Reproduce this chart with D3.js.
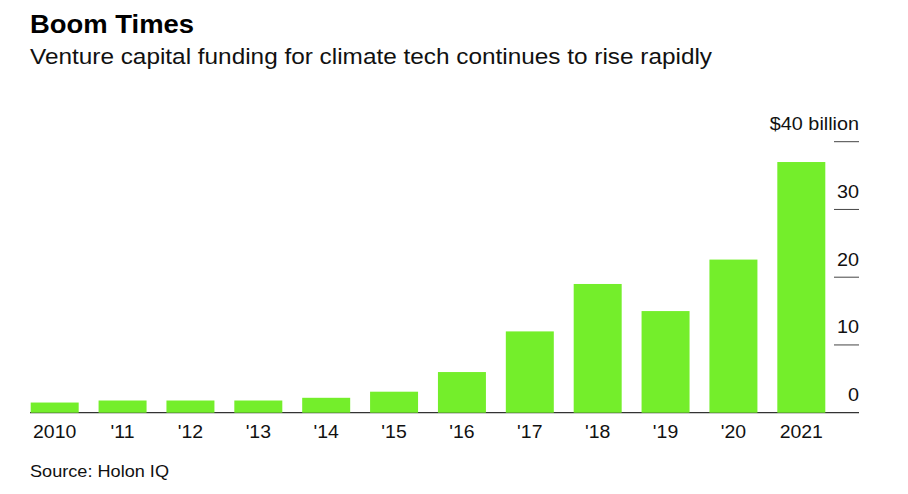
<!DOCTYPE html>
<html><head><meta charset="utf-8">
<script src="https://cdn.jsdelivr.net/npm/d3@7"></script>
<style>
html,body{margin:0;padding:0;background:#fff;}
svg{display:block;font-family:"Liberation Sans",Arial,Helvetica,sans-serif;}
</style></head>
<body>
<svg id="chart" width="908" height="494"></svg>
<script>
const years = ["2010","'11","'12","'13","'14","'15","'16","'17","'18","'19","'20","2021"];
const funding = [1.5, 1.8, 1.8, 1.8, 2.2, 3.1, 6.0, 12.0, 19.0, 15.0, 22.6, 37.0];
const yTicks = [0, 10, 20, 30, 40];
const yTickLabels = ["0", "10", "20", "30", "$40 billion"];
const title = "Boom Times";
const subtitle = "Venture capital funding for climate tech continues to rise rapidly";
const source = "Source: Holon IQ";

const svg = d3.select("#chart");
const barColor = "#74ee2b";

// widen text slightly to mimic the reference's wider typeface
function stretch(sel, factor) {
  sel.each(function() {
    const w = this.getComputedTextLength();
    d3.select(this).attr("textLength", w * factor).attr("lengthAdjust", "spacingAndGlyphs");
  });
}

const x = d3.scaleBand().domain(years).range([30.7, 825.3]).paddingInner(0.293).paddingOuter(0);
const y = d3.scaleLinear().domain([0, 40]).range([412.7, 141.7]);

svg.append("text").attr("x", 30).attr("y", 33).attr("font-size", 25.5).attr("font-weight", 700)
  .attr("fill", "#000").text(title)
  .attr("textLength", 164).attr("lengthAdjust", "spacingAndGlyphs");
svg.append("text").attr("x", 30).attr("y", 64).attr("font-size", 22).attr("fill", "#111").text(subtitle)
  .attr("textLength", 682).attr("lengthAdjust", "spacingAndGlyphs");

// baseline
svg.append("line").attr("x1", 30).attr("x2", 859).attr("y1", y(0)).attr("y2", y(0))
  .attr("stroke", "#333").attr("stroke-width", 1.2);

// y ticks
const yg = svg.append("g");
yTicks.forEach((t, i) => {
  if (t !== 0) {
    yg.append("line").attr("x1", 834).attr("x2", 859).attr("y1", y(t)).attr("y2", y(t))
      .attr("stroke", "#444").attr("stroke-width", 1);
  }
  const tx = yg.append("text").attr("x", 859).attr("y", y(t) - 11.5).attr("text-anchor", "end")
    .attr("font-size", 18).attr("fill", "#111").text(yTickLabels[i]);
  stretch(tx, 1.1);
});

// bars
svg.append("g").selectAll("rect").data(years).join("rect")
  .attr("x", d => x(d)).attr("width", x.bandwidth())
  .attr("y", (d, i) => y(funding[i])).attr("height", (d, i) => y(0) - y(funding[i]))
  .attr("fill", barColor);

// x labels
const xl = svg.append("g").selectAll("text").data(years).join("text")
  .attr("x", d => x(d) + x.bandwidth() / 2).attr("y", 438).attr("text-anchor", "middle")
  .attr("font-size", 18).attr("fill", "#111").text(d => d);
stretch(xl, 1.08);

svg.append("text").attr("x", 30).attr("y", 476.5).attr("font-size", 17).attr("fill", "#111").text(source)
  .attr("textLength", 139).attr("lengthAdjust", "spacingAndGlyphs");
</script>
</body></html>
